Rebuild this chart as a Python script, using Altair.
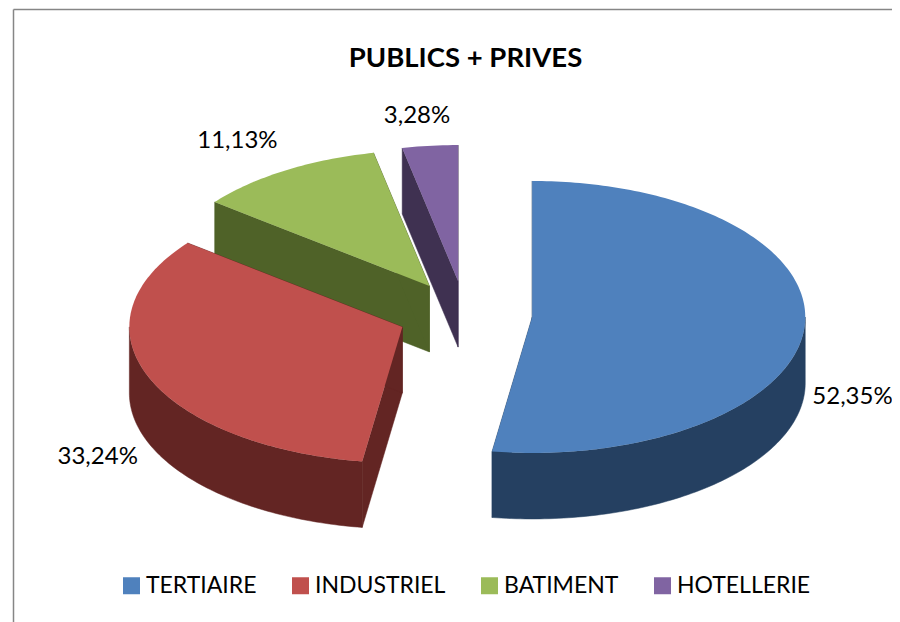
import math
import altair as alt

CATEGORIES = ["TERTIAIRE", "INDUSTRIEL", "BATIMENT", "HOTELLERIE"]
SHARES = [52.35, 33.24, 11.13, 3.28]
LABELS = ["52,35%", "33,24%", "11,13%", "3,28%"]
TOP_COLORS = ["#4F81BD", "#C0504D", "#9BBB59", "#8064A2"]
SIDE_COLORS = ["#254061", "#632523", "#4F6228", "#3F3151"]
TITLE = "PUBLICS + PRIVES"

# Pie layout, in picture pixels
CX, CY, RX, RY, DEPTH, EXPLODE = 465.0, 314.5, 273.0, 136.0, 66.0, 0.247
LABEL_SHIFT = [(48, 70), (-51, 80), (-48, -29), (-13, -30)]
FONT = "Lato"
FRAME = "#868686"
PROJ = dict(type="identity", scale=1, translate=[-8, -8])


def rim(theta, ox, oy, drop=0.0):
    t = math.radians(theta)
    return [ox + RX * math.sin(t), oy - RY * math.cos(t) + drop]


def feature(name, fill, ring, rank):
    return {
        "type": "Feature",
        "geometry": {"type": "Polygon", "coordinates": [ring + [ring[0]]]},
        "properties": {"name": name, "fill": fill, "rank": rank},
    }


sides, tops, labels = [], [], []
start = 0.0
for i, (name, share) in enumerate(zip(CATEGORIES, SHARES)):
    end = start + share * 3.6
    mid = (start + end) / 2
    tip = rim(mid, CX, CY)
    ox = CX + (tip[0] - CX) * EXPLODE
    oy = CY + (tip[1] - CY) * EXPLODE
    n = max(4, int(end - start))
    arc = [rim(start + (end - start) * k / n, ox, oy) for k in range(n + 1)]
    tops.append((i, feature(name, TOP_COLORS[i], [[ox, oy]] + arc, i)))

    for a in (start, end):
        p = rim(a, ox, oy)
        face = [[ox, oy], p, [p[0], p[1] + DEPTH], [ox, oy + DEPTH]]
        sides.append((i, feature(name, SIDE_COLORS[i], face, i)))
    lo, hi = max(start, 90.0), min(end, 270.0)
    if lo < hi:
        m = max(4, int(hi - lo))
        front = [rim(lo + (hi - lo) * k / m, ox, oy) for k in range(m + 1)]
        wall = front + [[x, y + DEPTH] for x, y in reversed(front)]
        sides.append((i, feature(name, SIDE_COLORS[i], wall, i)))

    edge = rim(mid, ox, oy)
    labels.append({
        "label": LABELS[i],
        "lon": edge[0] + LABEL_SHIFT[i][0],
        "lat": edge[1] + LABEL_SHIFT[i][1],
    })
    start = end

# back-to-front: the small slices at the back are painted first
side_feats = [f for i, f in sorted(sides, key=lambda s: -s[0])]
top_feats = [f for i, f in sorted(tops, key=lambda s: -s[0])]

side_layer = (
    alt.Chart(alt.Data(values=side_feats))
    .mark_geoshape(strokeWidth=0.5)
    .encode(
        fill=alt.Fill("properties.fill:N", scale=None),
        stroke=alt.Stroke("properties.fill:N", scale=None),
    )
    .project(**PROJ)
)

top_layer = (
    alt.Chart(alt.Data(values=top_feats))
    .mark_geoshape(strokeWidth=0)
    .encode(
        color=alt.Color(
            "properties.name:N",
            scale=alt.Scale(domain=CATEGORIES, range=TOP_COLORS),
            sort=CATEGORIES,
            legend=alt.Legend(
                title=None,
                orient="none",
                legendX=112,
                legendY=566,
                direction="horizontal",
                symbolType="square",
                symbolSize=289,
                symbolStrokeWidth=0,
                labelFont=FONT,
                labelFontSize=23,
                labelColor="#000000",
                labelOffset=3,
                columnPadding=32,
                labelLimit=300,
            ),
        )
    )
    .project(**PROJ)
)

text_layer = (
    alt.Chart(alt.Data(values=labels))
    .mark_text(font=FONT, fontSize=24, color="#000000", align="center", baseline="middle")
    .encode(longitude="lon:Q", latitude="lat:Q", text="label:N")
    .project(**PROJ)
)

frame_left = alt.Chart(alt.Data(values=[{"a": 0}])).mark_rule(color=FRAME, strokeWidth=1.5).encode(
    x=alt.value(5.5), y=alt.value(1.5), y2=alt.value(614)
)
frame_top = alt.Chart(alt.Data(values=[{"a": 0}])).mark_rule(color=FRAME, strokeWidth=1.5).encode(
    x=alt.value(5.5), x2=alt.value(884), y=alt.value(1.5)
)

chart = (
    alt.layer(frame_left, frame_top, side_layer, top_layer, text_layer)
    .properties(
        width=884,
        height=614,
        padding=0,
        autosize=alt.AutoSizeParams(type="none"),
        title=alt.TitleParams(
            TITLE, font=FONT, fontSize=27.5, fontWeight="bold", color="#000000",
            anchor="middle", dx=15.5, dy=68,
        ),
    )
    .configure_view(stroke=None)
)

chart.save("out.html", embed_options={"renderer": "svg", "actions": False})
